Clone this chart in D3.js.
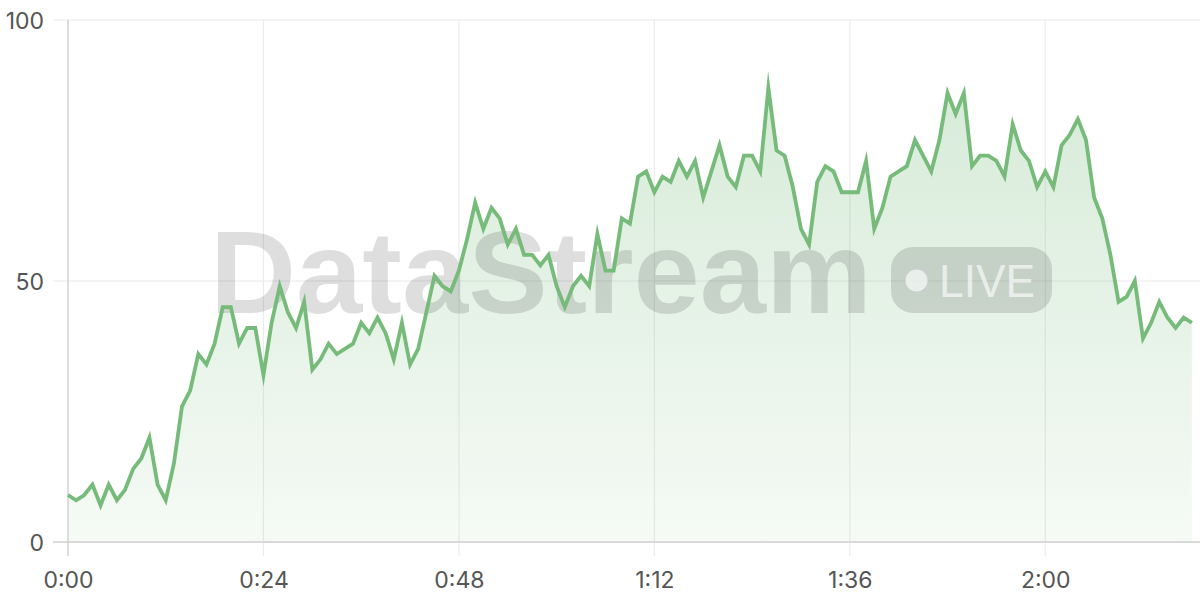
<!DOCTYPE html>
<html>
<head>
<meta charset="utf-8">
<script src="https://cdn.jsdelivr.net/npm/d3@7/dist/d3.min.js"></script>
<style>
  html, body { margin: 0; padding: 0; background: #fff; }
  svg { display: block; }
</style>
</head>
<body>
<svg id="chart" width="1200" height="600"></svg>
<script>
// ---- data ----
const seconds = d3.range(0, 139);
const values = [
  9, 8, 9, 11, 7, 11, 8, 10, 14, 16,
  20, 11, 8, 15, 26, 29, 36, 34, 38, 45,
  45, 38, 41, 41, 32, 42, 49, 44, 41, 46,
  33, 35, 38, 36, 37, 38, 42, 40, 43, 40,
  35, 42, 34, 37, 44, 51, 49, 48, 52, 58,
  65, 60, 64, 62, 57, 60, 55, 55, 53, 55,
  49, 45, 49, 51, 49, 59, 52, 52, 62, 61,
  70, 71, 67, 70, 69, 73, 70, 73, 66, 71,
  76, 70, 68, 74, 74, 71, 87, 75, 74, 68,
  60, 57, 69, 72, 71, 67, 67, 67, 73, 60,
  64, 70, 71, 72, 77, 74, 71, 77, 86, 82,
  86, 72, 74, 74, 73, 70, 80, 75, 73, 68,
  71, 68, 76, 78, 81, 77, 66, 62, 55, 46,
  47, 50, 39, 42, 46, 43, 41, 43, 42
];
const xTicks = [0, 24, 48, 72, 96, 120];
const yTicks = [0, 50, 100];
const watermarkText = "DataStream";
const badgeText = "LIVE";

const data = seconds.map((s, i) => ({ s, v: values[i] }));

// ---- layout ----
const svg = d3.select("#chart");
const mLeft = 68, mRight = 1200, mTop = 20, mBottom = 542;
const x = d3.scaleLinear().domain([0, 139]).range([mLeft, mRight]);
const y = d3.scaleLinear().domain([0, 100]).range([mBottom, mTop]);
const lineColor = "#76bb7a";
const fmt = s => Math.floor(s / 60) + ":" + String(s % 60).padStart(2, "0");

const defs = svg.append("defs");
const grad = defs.append("linearGradient")
  .attr("id", "areaGrad")
  .attr("gradientUnits", "userSpaceOnUse")
  .attr("x1", 0).attr("x2", 0)
  .attr("y1", y(90)).attr("y2", y(0));
grad.append("stop").attr("offset", "0%").attr("stop-color", lineColor).attr("stop-opacity", 0.3);
grad.append("stop").attr("offset", "100%").attr("stop-color", lineColor).attr("stop-opacity", 0.07);

// ---- grid ----
const gGrid = svg.append("g");
gGrid.selectAll("line.h").data(yTicks).join("line")
  .attr("x1", mLeft - 15).attr("x2", mRight)
  .attr("y1", d => y(d)).attr("y2", d => y(d))
  .attr("stroke", "#e9e9e9").attr("stroke-width", 1.2);
gGrid.selectAll("line.v").data(xTicks.filter(d => d > 0)).join("line")
  .attr("x1", d => x(d)).attr("x2", d => x(d))
  .attr("y1", mTop).attr("y2", mBottom + 14)
  .attr("stroke", "#ececec").attr("stroke-width", 1.2);

// ---- area ----
const area = d3.area().x(d => x(d.s)).y0(y(0)).y1(d => y(d.v));
svg.append("path").datum(data).attr("d", area).attr("fill", "url(#areaGrad)");

// ---- axis lines ----
svg.append("line")
  .attr("x1", mLeft).attr("x2", mLeft)
  .attr("y1", mTop).attr("y2", mBottom + 14)
  .attr("stroke", "#d2d2d2").attr("stroke-width", 1.5);
svg.append("line")
  .attr("x1", mLeft - 15).attr("x2", mRight)
  .attr("y1", y(0)).attr("y2", y(0))
  .attr("stroke", "#d2d2d2").attr("stroke-width", 1.5);

// ---- watermark ----
const wm = svg.append("g").attr("pointer-events", "none");
wm.append("text")
  .attr("x", 210).attr("y", 313)
  .attr("font-family", "Liberation Sans, Arial, sans-serif")
  .attr("font-weight", "bold")
  .attr("font-size", 116)
  .attr("textLength", 662).attr("lengthAdjust", "spacingAndGlyphs")
  .attr("fill", "#000").attr("fill-opacity", 0.13)
  .text(watermarkText);
wm.append("rect")
  .attr("x", 891).attr("y", 247).attr("width", 161).attr("height", 66)
  .attr("rx", 22).attr("ry", 22)
  .attr("fill", "#000").attr("fill-opacity", 0.13);
wm.append("circle")
  .attr("cx", 916.5).attr("cy", 280.5).attr("r", 11)
  .attr("fill", "#fff").attr("fill-opacity", 0.65);
wm.append("text")
  .attr("x", 939).attr("y", 297)
  .attr("font-family", "Liberation Sans, Arial, sans-serif")
  .attr("font-size", 46)
  .attr("textLength", 96).attr("lengthAdjust", "spacingAndGlyphs")
  .attr("fill", "#fff").attr("fill-opacity", 0.65)
  .text(badgeText);

// ---- line ----
const line = d3.line().x(d => x(d.s)).y(d => y(d.v));
svg.append("path").datum(data).attr("d", line)
  .attr("fill", "none").attr("stroke", lineColor)
  .attr("stroke-width", 3.8).attr("stroke-linejoin", "miter").attr("stroke-miterlimit", 10);

// ---- axes labels ----
const yAxis = d3.axisLeft(y).tickValues(yTicks).tickSize(0).tickPadding(0);
const gy = svg.append("g").attr("transform", `translate(${mLeft - 24},0)`).call(yAxis);
gy.select(".domain").remove();
gy.selectAll("text")
  .attr("font-family", "Inter, sans-serif").attr("font-size", 23)
  .attr("fill", "#555").attr("dy", "0.38em");

const xAxis = d3.axisBottom(x).tickValues(xTicks).tickFormat(fmt).tickSize(0).tickPadding(0);
const gx = svg.append("g").attr("transform", `translate(0,${mBottom})`).call(xAxis);
gx.select(".domain").remove();
gx.selectAll("text")
  .attr("font-family", "Inter, sans-serif").attr("font-size", 23)
  .attr("fill", "#555").attr("dy", 0).attr("y", 46);
</script>
</body>
</html>
